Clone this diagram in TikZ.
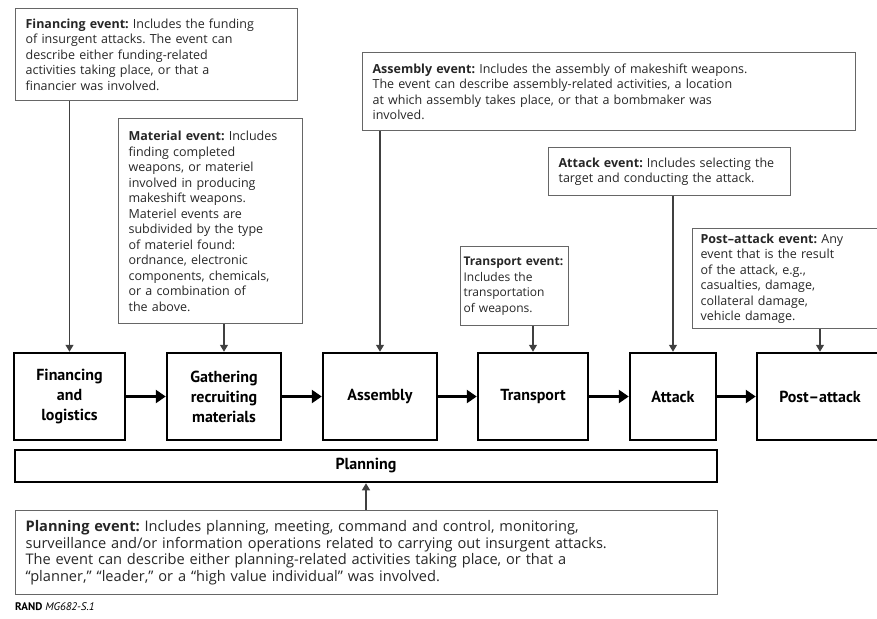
\documentclass[tikz,border=0pt]{standalone}
\usepackage{fontspec}
\setmainfont{Open Sans}
\newfontfamily\narrowfont{PT Sans}
\usetikzlibrary{arrows.meta}
\frenchspacing

\tikzset{
  event/.style={draw=black!60, line width=1.2pt, anchor=north west, align=left,
    inner xsep=10pt, inner ysep=5pt, text=black!85,
    font=\fontsize{12.5}{15.5}\selectfont},
  stage/.style={draw, line width=2.5pt, minimum height=87pt, align=center,
    inner sep=2pt, font=\narrowfont\bfseries\fontsize{16}{20}\selectfont},
  flow/.style={line width=3.5pt, -{Triangle[length=10pt,width=13pt]}},
  feed/.style={line width=1.2pt, draw=black!75, -{Triangle[length=7pt,width=8pt]}},
}

\begin{document}
\begin{tikzpicture}[x=1pt,y=-1pt]
    \useasboundingbox (0,0) rectangle (877,618);

    % event descriptions

    \node[event, text width=262pt, minimum height=92pt] (finev) at (15,8)
      {\textbf{Financing event:} Includes the funding\\of insurgent attacks. The event can\\describe either funding-related\\activities taking place, or that a\\financier was involved.};
    \node[event, text width=164pt, minimum height=205pt] (matev) at (118,118)
      {\textbf{Material event:} Includes\\finding completed\\weapons, or materiel\\involved in producing\\makeshift weapons.\\Materiel events are\\subdivided by the type\\of materiel found:\\ordnance, electronic\\components, chemicals,\\or a combination of\\the above.};
    \node[event, text width=473pt, minimum height=78pt] (asmev) at (362,52)
      {\textbf{Assembly event:} Includes the assembly of makeshift weapons.\\The event can describe assembly-related activities, a location\\at which assembly takes place, or that a bombmaker was\\involved.};
    \node[event, text width=222pt, minimum height=48pt] (attev) at (548,147)
      {\textbf{Attack event:} Includes selecting the\\target and conducting the attack.};
    \node[event, text width=102pt, inner xsep=3pt, minimum height=79pt,
      font=\fontsize{12}{15.5}\selectfont] (traev) at (460,246)
      {\textbf{Transport event:}\\Includes the\\transportation\\of weapons.};
    \node[event, text width=180pt, inner xsep=8pt, minimum height=100pt] (postev) at (692,228)
      {\textbf{Post–attack event:} Any\\event that is the result\\of the attack, e.g.,\\casualties, damage,\\collateral damage,\\vehicle damage.};

    % stages

    \node[stage, minimum width=111pt] (fin) at (69.5,396.5) {Financing\\and\\logistics};
    \node[stage, minimum width=114pt] (gat) at (224,396.5) {Gathering\\recruiting\\materials};
    \node[stage, minimum width=114pt] (asm) at (380,396.5) {Assembly};
    \node[stage, minimum width=110pt] (tra) at (533,396.5) {Transport};
    \node[stage, minimum width=86pt] (att) at (673,396.5) {Attack};
    \node[stage, minimum width=126pt] (post) at (820,396.5) {Post–attack};

    \draw[flow] (fin) -- (gat);
    \draw[flow] (gat) -- (asm);
    \draw[flow] (asm) -- (tra);
    \draw[flow] (tra) -- (att);
    \draw[flow] (att) -- (post);

    \draw[feed] (fin |- finev.south) -- (fin.north);
    \draw[feed] (gat |- matev.south) -- (gat.north);
    \draw[feed] (asm |- asmev.south) -- (asm.north);
    \draw[feed] (tra |- traev.south) -- (tra.north);
    \draw[feed] (att |- attev.south) -- (att.north);
    \draw[feed] (post |- postev.south) -- (post.north);

    % planning

    \node[stage, minimum width=702pt, minimum height=32pt] (plan) at (366,466) {Planning};
    \node[event, text width=682pt, minimum height=84pt, font=\fontsize{14.6}{16.7}\selectfont] (planev) at (15,510)
      {\textbf{Planning event:} Includes planning, meeting, command and control, monitoring,\\surveillance and/or information operations related to carrying out insurgent attacks.\\The event can describe either planning-related activities taking place, or that a\\“planner,” “leader,” or a “high value individual” was involved.};
    \draw[feed] (planev.north -| plan) -- (plan.south);

    \node[anchor=west, inner sep=0pt, font=\narrowfont\fontsize{11}{12}\selectfont] (src) at (15,607)
      {\textbf{RAND} \textit{MG682-S.1}};

\end{tikzpicture}
\end{document}
